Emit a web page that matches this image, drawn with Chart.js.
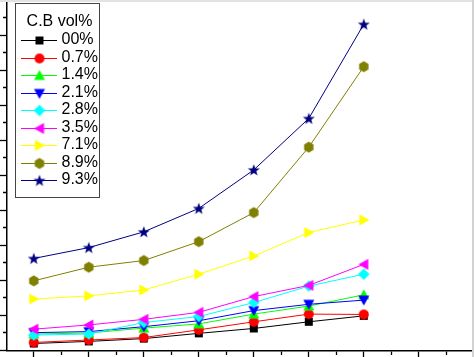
<!DOCTYPE html>
<html>
<head>
<meta charset="utf-8">
<script src="https://cdn.jsdelivr.net/npm/chart.js@4/dist/chart.umd.min.js"></script>
<style>
html,body{margin:0;padding:0;background:#fff;overflow:hidden}
#wrap{width:474px;height:357px;position:relative}
</style>
</head>
<body>
<div id="wrap"><canvas id="c" width="474" height="357"></canvas></div>
<script>
// ---- data ----
const xPositions = [1, 2, 3, 4, 5, 6, 7];
const legendTitle = 'C.B vol%';
const seriesLabels = ['00%', '0.7%', '1.4%', '2.1%', '2.8%', '3.5%', '7.1%', '8.9%', '9.3%'];
const cb00 = [0.20, 0.26, 0.34, 0.49, 0.63, 0.82, 0.99];
const cb07 = [0.23, 0.30, 0.37, 0.59, 0.82, 1.04, 1.03];
const cb14 = [0.47, 0.50, 0.64, 0.76, 1.04, 1.27, 1.59];
const cb21 = [0.51, 0.54, 0.68, 0.85, 1.14, 1.32, 1.44];
const cb28 = [0.44, 0.47, 0.80, 0.97, 1.37, 1.84, 2.18];
const cb35 = [0.61, 0.73, 0.89, 1.09, 1.54, 1.86, 2.46];
const cb71 = [1.47, 1.56, 1.73, 2.18, 2.70, 3.37, 3.73];
const cb89 = [1.99, 2.38, 2.57, 3.11, 3.94, 5.81, 8.11];
const cb93 = [2.63, 2.94, 3.39, 4.06, 5.16, 6.63, 9.32];
const seriesValues = [cb00, cb07, cb14, cb21, cb28, cb35, cb71, cb89, cb93];
const seriesColors = ['#000000', '#ff0000', '#00ff00', '#0000ff', '#00ffff', '#ff00ff', '#ffff00', '#808000', '#000080'];
const seriesShapes = ['square', 'circle', 'triUp', 'triDown', 'diamond', 'triLeft', 'triRight', 'hexagon', 'star'];
const xTickValues = [1, 1.5, 2, 2.5, 3, 3.5, 4, 4.5, 5, 5.5, 6, 6.5, 7, 7.5, 8, 8.5, 9];
const yTickValues = [0, 0.5, 1, 1.5, 2, 2.5, 3, 3.5, 4, 4.5, 5, 5.5, 6, 6.5, 7, 7.5, 8, 8.5, 9, 9.5, 10];

// ---- marker images ----
function makeMarker(shape, color) {
  const s = 14, m = 7;
  const c = document.createElement('canvas');
  c.width = s; c.height = s;
  const g = c.getContext('2d');
  g.fillStyle = color;
  g.beginPath();
  switch (shape) {
    case 'square': g.rect(m - 4, m - 4, 8, 8); break;
    case 'circle': g.arc(m, m, 5, 0, Math.PI * 2); break;
    case 'triUp': g.moveTo(m, m - 5.5); g.lineTo(m + 5.5, m + 4.5); g.lineTo(m - 5.5, m + 4.5); break;
    case 'triDown': g.moveTo(m, m + 5.5); g.lineTo(m + 5.5, m - 4.5); g.lineTo(m - 5.5, m - 4.5); break;
    case 'triLeft': g.moveTo(m - 5.5, m); g.lineTo(m + 4.5, m - 5.5); g.lineTo(m + 4.5, m + 5.5); break;
    case 'triRight': g.moveTo(m + 5.5, m); g.lineTo(m - 4.5, m - 5.5); g.lineTo(m - 4.5, m + 5.5); break;
    case 'diamond': g.moveTo(m, m - 5.8); g.lineTo(m + 5.8, m); g.lineTo(m, m + 5.8); g.lineTo(m - 5.8, m); break;
    case 'hexagon':
      for (let k = 0; k < 6; k++) {
        const a = Math.PI / 6 + k * Math.PI / 3;
        const px = m + 5.4 * Math.cos(a), py = m + 5.4 * Math.sin(a);
        if (k === 0) g.moveTo(px, py); else g.lineTo(px, py);
      }
      break;
    case 'star':
      for (let k = 0; k < 10; k++) {
        const r = (k % 2 === 0) ? 6.3 : 2.6;
        const a = -Math.PI / 2 + k * Math.PI / 5;
        const px = m + r * Math.cos(a), py = m + 0.5 + r * Math.sin(a);
        if (k === 0) g.moveTo(px, py); else g.lineTo(px, py);
      }
      break;
  }
  g.closePath();
  g.fill();
  return c;
}
const markers = seriesShapes.map((sh, i) => makeMarker(sh, seriesColors[i]));

// ---- plugins ----
const boxLegend = {
  id: 'boxLegend',
  afterDatasetsDraw(chart) {
    const ctx = chart.ctx;
    ctx.save();
    ctx.fillStyle = '#ffffff';
    ctx.fillRect(15, 3.5, 84, 194);
    ctx.strokeStyle = '#444444';
    ctx.lineWidth = 1;
    ctx.strokeRect(15.5, 3.5, 84, 194);
    ctx.font = '16px "Liberation Sans", Arial, sans-serif';
    ctx.fillStyle = '#000';
    ctx.textBaseline = 'middle';
    ctx.textAlign = 'center';
    ctx.fillText(legendTitle, 59.5, 22);
    ctx.textAlign = 'left';
    chart.data.datasets.forEach((ds, i) => {
      const y = 40 + 17.5 * i;
      ctx.strokeStyle = ds.borderColor;
      ctx.lineWidth = 1;
      ctx.beginPath();
      ctx.moveTo(21, Math.round(y) + 0.5);
      ctx.lineTo(57, Math.round(y) + 0.5);
      ctx.stroke();
      ctx.drawImage(ds.pointStyle, 39.5 - 7, Math.round(y) + 0.5 - 7);
      ctx.fillStyle = '#000';
      ctx.fillText(ds.label, 61.5, y);
    });
    ctx.restore();
  },
  afterDraw(chart) {
    const ctx = chart.ctx;
    ctx.save();
    ctx.fillStyle = '#e2e2e2';
    ctx.fillRect(0, 0, 474, 2);
    ctx.fillStyle = '#d2d2d2';
    ctx.fillRect(472, 0, 2, 357);
    ctx.restore();
  }
};

const isMajor = v => Math.abs(v - Math.round(v)) < 1e-6;

new Chart(document.getElementById('c'), {
  type: 'line',
  data: {
    datasets: seriesLabels.map((lab, i) => ({
      label: lab,
      data: xPositions.map((x, j) => ({ x: x, y: seriesValues[i][j] })),
      borderColor: seriesColors[i],
      backgroundColor: seriesColors[i],
      borderWidth: 1,
      pointStyle: markers[i],
      pointRadius: 6,
      tension: 0,
      fill: false,
      clip: false,
      order: 9 - i
    }))
  },
  options: {
    responsive: false,
    animation: false,
    devicePixelRatio: 1,
    layout: { padding: 0, autoPadding: false },
    events: [],
    plugins: { legend: { display: false }, tooltip: { enabled: false }, title: { display: false } },
    scales: {
      x: {
        type: 'linear', position: 'bottom', min: 0.513, max: 9.004,
        afterBuildTicks: s => { s.ticks = xTickValues.map(v => ({ value: v })); },
        afterFit: s => { s.height = 6.5; },
        ticks: { display: false },
        grid: {
          display: true, drawOnChartArea: false, drawTicks: true, tickLength: 7,
          tickColor: '#000', tickWidth: 1.3,
          tickBorderDash: ctx => (ctx.tick && isMajor(ctx.tick.value)) ? [] : [3.5, 30]
        },
        border: { display: true, color: '#000', width: 1.5 }
      },
      y: {
        type: 'linear', position: 'left', min: 0, max: 10.014,
        afterBuildTicks: s => { s.ticks = yTickValues.map(v => ({ value: v })); },
        afterFit: s => { s.width = 7; },
        ticks: { display: false },
        grid: {
          display: true, drawOnChartArea: false, drawTicks: true, tickLength: 7,
          tickColor: '#000', tickWidth: 1.3,
          tickBorderDash: ctx => (ctx.tick && isMajor(ctx.tick.value)) ? [] : [0, 3, 4, 30]
        },
        border: { display: true, color: '#000', width: 1.5 }
      }
    }
  },
  plugins: [boxLegend]
});
</script>
</body>
</html>
